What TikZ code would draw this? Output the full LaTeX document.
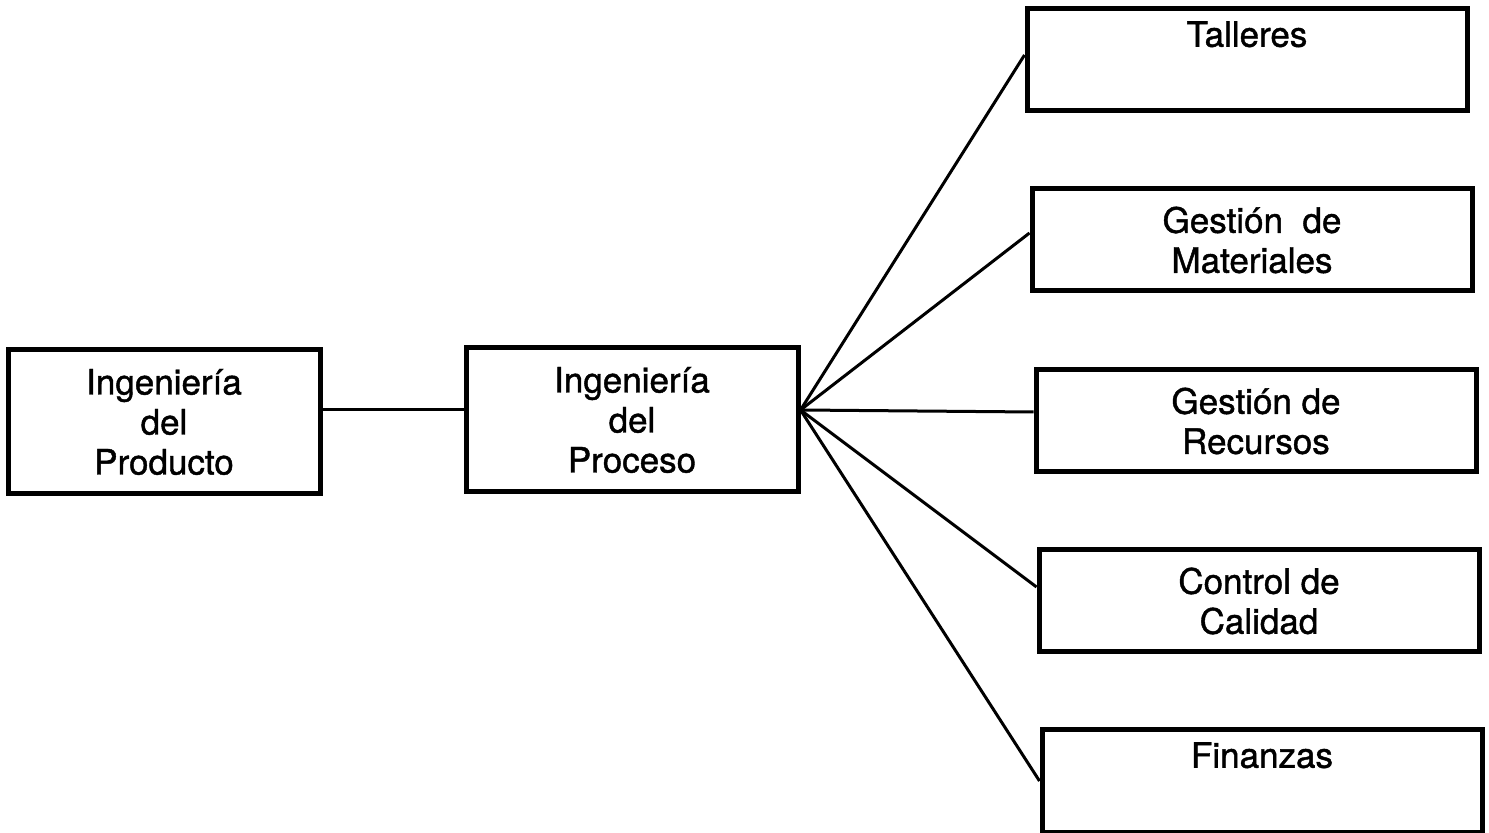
\documentclass[tikz,border=0pt]{standalone}
\usepackage{fontspec}
\setmainfont[FakeBold=1.2]{TeX Gyre Heros}
\usetikzlibrary{positioning}

\begin{document}
\begin{tikzpicture}[x=0.5pt,y=-0.5pt,
area/.style={draw,line width=2.5pt,align=center,inner sep=0pt,font=\fontsize{17.5}{20}\selectfont},
wide/.style={area,minimum width=220pt,minimum height=51pt},
link/.style={line width=1.5pt}
]
\useasboundingbox (0,0) rectangle (1489,833);
% left part
\node[area,minimum width=156pt,minimum height=72pt] (prod) at (164,422) {Ingeniería\\del\\Producto};
\node[area,minimum width=166pt,minimum height=72pt] (proc) at (632,420) {Ingeniería\\del\\Proceso};
% right column
\node[wide] (tall) at (1247,60) {Talleres\\\strut};
\node[wide] (mat) at (1252,240) {Gestión\ \ de\\Materiales};
\node[wide] (rec) at (1256,421) {Gestión de\\Recursos};
\node[wide] (cal) at (1259,601) {Control de\\Calidad};
\node[wide] (fin) at (1262,781) {Finanzas\\\strut};
% connectors
\coordinate (hub) at ([yshift=5pt]proc.east);
\draw[link] (prod.east |- hub) -- (proc.west |- hub);
\foreach \t/\s in {tall/2.5,mat/3.5,rec/4.5,cal/7,fin/0}
  \draw[link] (hub) -- ([yshift=\s pt]\t.west);
\end{tikzpicture}
\end{document}
